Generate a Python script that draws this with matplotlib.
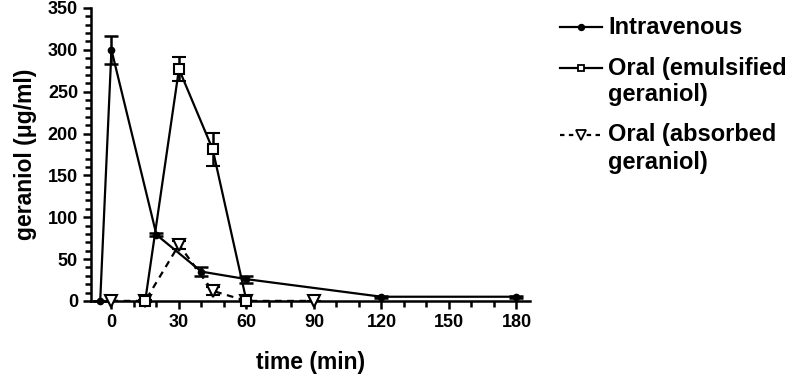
import matplotlib
matplotlib.use("Agg")
import matplotlib.pyplot as plt
from matplotlib.lines import Line2D
from matplotlib.ticker import MultipleLocator

plt.rcParams['font.family'] = ['Liberation Sans', 'DejaVu Sans']
plt.rcParams['font.weight'] = 'bold'

# data
iv_t = [-5, 0, 20, 40, 60, 120, 180]
iv_c = [0, 300, 79, 35, 26, 5, 5]
iv_e = [0, 17, 2, 5, 4, 1, 1]

em_t = [15, 30, 45, 60]
em_c = [0, 277, 181, 0]
em_e = [1, 14, 20, 0]

ab_t = [0, 15, 30, 45, 60, 90]
ab_c = [0, 0, 67, 12, 0, 0]
ab_e = [0, 1, 5, 5, 0, 0]

labels = ["Intravenous", "Oral (emulsified\ngeraniol)", "Oral (absorbed\ngeraniol)"]
x_ticks = [0, 30, 60, 90, 120, 150, 180]
y_ticks = [0, 50, 100, 150, 200, 250, 300, 350]

fig = plt.figure(figsize=(8.0, 3.79), dpi=100)
ax = fig.add_axes([0.114, 0.206, 0.5485, 0.773])

lw = 1.6
ax.errorbar(ab_t, ab_c, yerr=ab_e, color='black', lw=lw, ls=(0, (3, 2.5)),
            marker='v', ms=8, mfc='white', mec='black', mew=1.5,
            capsize=5, capthick=1.8, elinewidth=1.8, zorder=3, clip_on=False)
ax.errorbar(em_t, em_c, yerr=em_e, color='black', lw=lw, ls='-',
            marker='s', ms=6.5, mfc='white', mec='black', mew=1.5,
            capsize=5, capthick=1.8, elinewidth=1.8, zorder=4, clip_on=False)
ax.errorbar(iv_t, iv_c, yerr=iv_e, color='black', lw=lw, ls='-',
            marker='o', ms=4.5, mfc='black', mec='black',
            capsize=5, capthick=1.8, elinewidth=1.8, zorder=5, clip_on=False)

ax.set_xlim(-9, 186)
ax.set_ylim(0, 350)
ax.set_xticks(x_ticks)
ax.set_yticks(y_ticks)
ax.xaxis.set_minor_locator(MultipleLocator(10))
ax.yaxis.set_minor_locator(MultipleLocator(10))
for s in ['top', 'right']:
    ax.spines[s].set_visible(False)
for s in ['left', 'bottom']:
    ax.spines[s].set_linewidth(1.8)
ax.tick_params(which='major', length=6, width=1.8, labelsize=13, direction='out')
ax.tick_params(which='minor', length=4, width=1.8, direction='out')
for lab in ax.get_xticklabels() + ax.get_yticklabels():
    lab.set_fontweight('bold')

ax.set_xlabel("time (min)", fontsize=16.5, fontweight='bold', labelpad=14)
ax.set_ylabel("geraniol (\u03bcg/ml)", fontsize=16.5, fontweight='bold', labelpad=8)

# legend (manual so handles align with the first text line)
styles = [
    dict(ls='-', marker='o', ms=4, mfc='black'),
    dict(ls='-', marker='s', ms=5, mfc='white'),
    dict(ls=(0, (2, 2)), marker='v', ms=7, mfc='white'),
]
ys = [1 - 27 / 379, 1 - 68 / 379, 1 - 135 / 379]
x0, x1, xt = 560 / 800, 602 / 800, 608 / 800
xm = (x0 + x1) / 2
for lab, st, y in zip(labels, styles, ys):
    fig.add_artist(Line2D([x0, xm, x1], [y, y, y], transform=fig.transFigure,
                          color='black', lw=1.6, mec='black', mew=1.3,
                          markevery=[1], **st))
    lines = lab.split('\n')
    for i, line in enumerate(lines):
        fig.text(xt, y - i * 27 / 379, line, fontsize=17, fontweight='bold',
                 va='center', ha='left')

fig.savefig("out.png", dpi=100)
